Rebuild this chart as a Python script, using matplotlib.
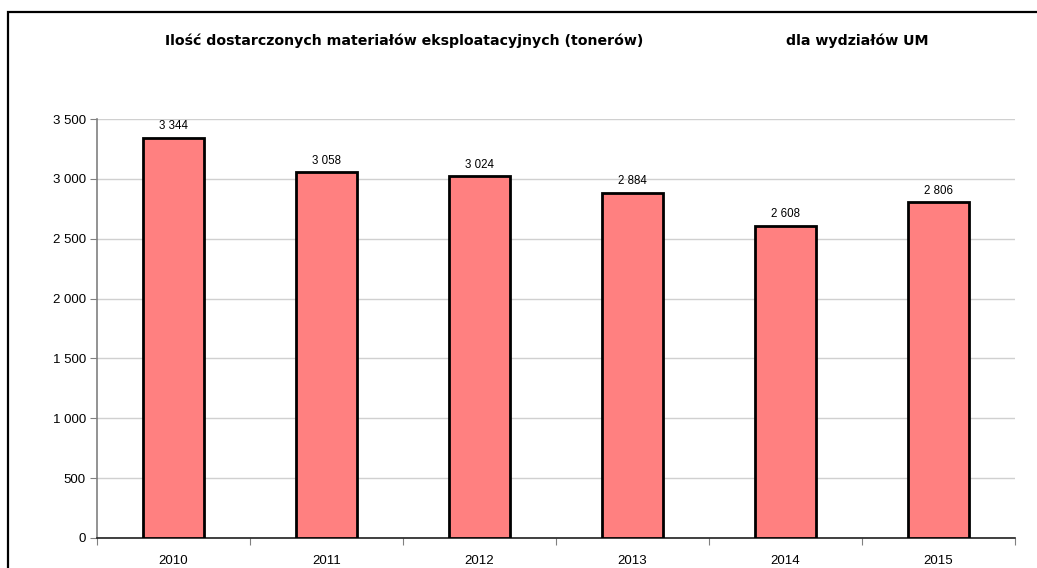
import matplotlib.pyplot as plt
from matplotlib.patches import Rectangle

years = ["2010", "2011", "2012", "2013", "2014", "2015"]
toners = [3344, 3058, 3024, 2884, 2608, 2806]
y_ticks = [0, 500, 1000, 1500, 2000, 2500, 3000, 3500]


def fmt(v):
    # Polish thousands separator (space)
    return f"{v:,}".replace(",", " ")


W, H = 1037, 568
fig = plt.figure(figsize=(W / 100, H / 100), dpi=100)

# outer chart frame (bottom and right edge run off the image)
fig.patches.append(Rectangle((8 / W, -0.1), 1.1, 1 - 12 / H + 0.1,
                             transform=fig.transFigure, fill=False,
                             edgecolor="black", linewidth=1.6))

ax = fig.add_axes([97 / W, 1 - 538 / H, (1015 - 97) / W, (538 - 119) / H])

x = range(len(years))
ax.bar(x, toners, width=0.4, color="#ff8080", edgecolor="black",
       linewidth=2, zorder=3)
for i, v in enumerate(toners):
    ax.text(i, v + 45, fmt(v), ha="center", va="bottom", fontsize=8.3,
            family="Liberation Sans")

ax.set_xlim(-0.5, len(years) - 0.5)
ax.set_ylim(0, 3500)
ax.set_yticks(y_ticks)
ax.set_yticklabels([fmt(v) for v in y_ticks], family="Liberation Sans",
                   fontsize=9.5)
ax.grid(axis="y", color="#d0d0d0", linewidth=1, zorder=0)

ax.set_xticks([i + 0.5 for i in range(-1, len(years))])
ax.set_xticklabels([])
ax.set_xticks(list(x), minor=True)
ax.set_xticklabels(years, minor=True, family="Liberation Sans", fontsize=9.5)
ax.tick_params(axis="x", which="minor", length=0, pad=12)
ax.tick_params(axis="x", which="major", length=5, color="#808080")
ax.tick_params(axis="y", length=5, color="#808080", pad=3)

for s in ["top", "right"]:
    ax.spines[s].set_visible(False)
ax.spines["left"].set_color("#808080")
ax.spines["left"].set_linewidth(1.2)
ax.spines["bottom"].set_color("#202020")
ax.spines["bottom"].set_linewidth(1.2)

fig.text(404 / W, 1 - 41 / H,
         "Ilość dostarczonych materiałów eksploatacyjnych (tonerów)",
         ha="center", va="center", fontsize=10.2, fontweight="bold",
         family="DejaVu Sans")
fig.text(857 / W, 1 - 41 / H, "dla wydziałów UM", ha="center", va="center",
         fontsize=10.2, fontweight="bold", family="DejaVu Sans")

fig.savefig("out.png", dpi=100)
